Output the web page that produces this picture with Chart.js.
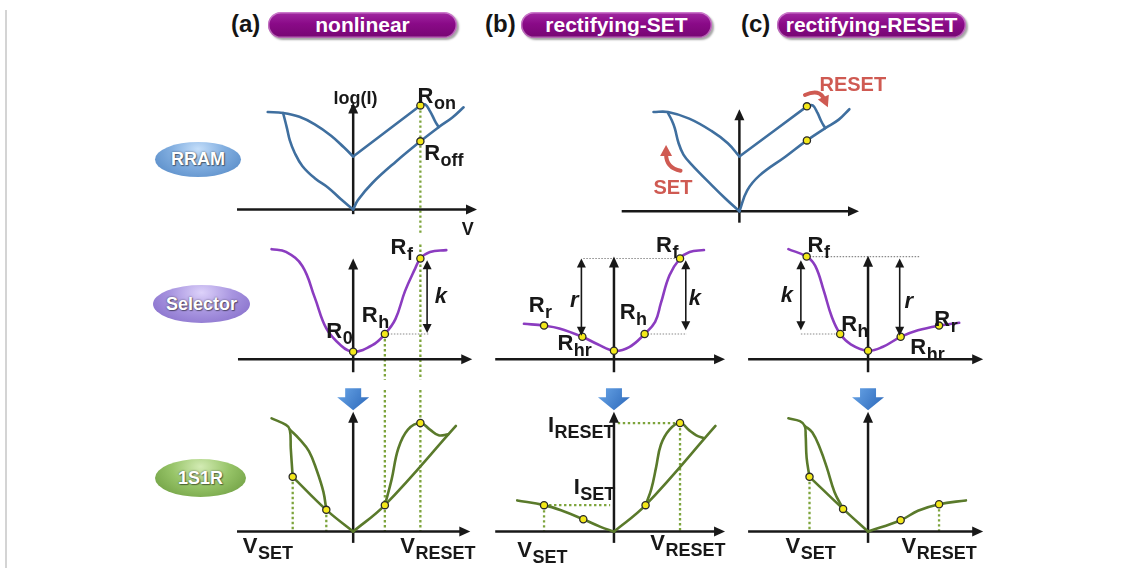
<!DOCTYPE html>
<html><head><meta charset="utf-8">
<script src="https://cdn.jsdelivr.net/npm/chart.js@4.4.1/dist/chart.umd.min.js"></script>
<style>
html,body{margin:0;padding:0;background:#fff;width:1131px;height:568px;overflow:hidden;font-family:"Liberation Sans",Arial,sans-serif;}
#stage{position:relative;width:1131px;height:568px;}
#stage canvas{position:absolute;}
.leftline{position:absolute;left:5px;top:10px;width:2px;height:558px;background:#d4d4d4;}
.tag{position:absolute;top:9px;font-weight:bold;font-size:24px;color:#151515;line-height:30px;}
.pill{position:absolute;top:12px;height:26px;border-radius:13px;background:linear-gradient(180deg,#a22aa2 0%,#8a0a88 45%,#760672 100%);color:#fff;font-weight:bold;font-size:21px;display:flex;align-items:center;justify-content:center;box-shadow:inset 0 0 0 1.5px rgba(255,220,255,0.45),2px 2px 2px rgba(0,0,0,0.35);}
.oval{position:absolute;border-radius:50%;color:#fff;font-weight:bold;font-size:18px;display:flex;align-items:center;justify-content:center;text-shadow:0 0 2px rgba(0,0,0,0.55),1px 1px 1px rgba(0,0,0,0.4);}
</style></head>
<body><div id="stage">
<div class="leftline"></div>
<div class="tag" style="left:231px">(a)</div><div class="pill" style="left:268px;width:189px">nonlinear</div>
<div class="tag" style="left:485px">(b)</div><div class="pill" style="left:521px;width:191px">rectifying-SET</div>
<div class="tag" style="left:741px">(c)</div><div class="pill" style="left:777px;width:189px">rectifying-RESET</div>
<div class="oval" style="left:155px;top:142px;width:86px;height:35px;background:radial-gradient(ellipse at 50% 20%,#c4defa 0%,#80addf 45%,#4f84c2 100%);">RRAM</div>
<div class="oval" style="left:153px;top:285px;width:97px;height:38px;background:radial-gradient(ellipse at 50% 20%,#ddd2fa 0%,#a895e0 45%,#7f66c6 100%);">Selector</div>
<div class="oval" style="left:155px;top:459px;width:91px;height:38px;background:radial-gradient(ellipse at 50% 20%,#d3ebb4 0%,#97c468 45%,#66963a 100%);">1S1R</div>
</div>
<script>
// ================= DATA (V, I in arbitrary units; origin = axes crossing) =================
// (a) RRAM
const rramA_leftUpper = [[-8.9,10.3],[-7.3,10.2],[-5.6,9.8],[-4.0,9.0],[-2.3,7.8],[-1.0,6.6],[0,5.6]];
const rramA_leftLower = [[-7.3,10.2],[-6.9,8.6],[-6.6,7.3],[-6.1,6.0],[-5.3,4.6],[-4.0,3.3],[-2.6,2.3],[-1.3,1.1],[0,0]];
const rramA_rightUpper = [[0,5.6],[7.0,11.0]];
const rramA_reset = [[7.0,11.0],[7.5,11.1],[8.0,10.4],[8.5,9.4],[8.9,8.7]];
const rramA_rightLower = [[0,0],[0.5,1.0],[2.0,2.8],[4.5,5.1],[7.0,7.2],[8.9,8.7],[10.3,9.7],[11.5,10.8]];
const rramA_points = [[7.0,11.0],[7.0,7.2]];
// (c) RRAM
const rramC_leftUpper = [[-8.9,10.5],[-7.4,10.5],[-5.2,9.8],[-2.9,8.5],[-1.2,7.2],[0,5.8]];
const rramC_leftLower = [[-7.4,10.4],[-7.0,9.6],[-6.7,8.8],[-6.3,7.2],[-5.8,6.0],[-5.0,5.0],[-2.9,2.8],[-1.4,1.3],[0,0]];
const rramC_rightUpper = [[0,5.8],[7.0,11.1]];
const rramC_reset = [[7.0,11.1],[7.6,11.2],[8.1,10.4],[8.5,9.5],[8.9,8.8]];
const rramC_rightLower = [[0,0],[0.8,2.2],[2.1,3.8],[4.8,5.8],[7.0,7.5],[8.9,8.8],[10.3,9.7],[11.4,10.8]];
const rramC_points = [[7.0,11.1],[7.0,7.5]];
// Selectors
const selA_curve = [[-8.5,11.8],[-7.0,11.5],[-5.3,10.0],[-4.0,6.6],[-2.8,3.3],[-1.3,1.5],[0,0.8],[2.0,1.5],[3.3,2.7],[4.4,4.3],[5.4,7.3],[6.4,9.6],[7.0,10.8],[8.0,11.5],[9.7,11.7]];
const selA_points = [[0,0.8],[3.3,2.7],[7.0,10.8]];
const selB_curve = [[-9.4,3.8],[-7.3,3.6],[-5.7,3.3],[-3.3,2.4],[-1.7,1.6],[0,0.9],[1.6,1.3],[3.2,2.7],[4.3,4.0],[4.9,6.0],[5.8,9.0],[6.9,10.8],[7.9,11.5],[9.4,11.7]];
const selB_points = [[-7.3,3.6],[-3.3,2.4],[0,0.9],[3.2,2.7],[6.9,10.8]];
const selC_curve = [[-8.3,11.8],[-6.4,11.0],[-5.5,10.0],[-4.6,7.3],[-3.8,4.6],[-2.9,2.7],[-1.8,1.6],[0,0.9],[1.5,1.3],[3.4,2.4],[5.2,3.1],[7.4,3.6],[9.5,3.9]];
const selC_points = [[-6.4,11.0],[-2.9,2.7],[0,0.9],[3.4,2.4],[7.4,3.6]];
// 1S1R
const oneA_leftOuter = [[-8.5,12.0],[-7.0,11.3],[-6.6,10.8],[-6.5,8.8],[-6.3,5.8]];
const oneA_leftLinear = [[-6.3,5.8],[-2.8,2.3],[0,0]];
const oneA_leftInner = [[-6.6,10.8],[-5.6,9.8],[-4.6,8.5],[-3.8,6.5],[-3.1,4.2],[-2.8,2.3]];
const oneA_rightLine = [[0,0],[3.3,2.8],[10.7,11.2]];
const oneA_rightLoop = [[3.3,2.8],[4.0,5.5],[4.7,8.8],[5.7,10.8],[7.0,11.5],[8.0,10.8],[8.9,10.2],[9.9,10.3]];
const oneA_points = [[-6.3,5.8],[-2.8,2.3],[3.3,2.8],[7.0,11.5]];
const oneB_left = [[-10.1,3.3],[-7.3,2.8],[-5.4,2.2],[-3.2,1.3],[-1.4,0.5],[0,0]];
const oneB_rightLine = [[0,0],[3.3,2.8],[10.6,11.2]];
const oneB_rightLoop = [[3.3,2.8],[3.9,4.5],[4.4,6.8],[4.9,9.2],[5.8,10.8],[6.9,11.5],[7.9,10.7],[8.6,10.2],[9.4,9.9]];
const oneB_points = [[-7.3,2.8],[-3.2,1.3],[3.3,2.8],[6.9,11.5]];
const oneC_leftOuter = [[-8.3,12.0],[-7.1,11.7],[-6.6,11.2],[-6.5,10.2],[-6.4,7.8],[-6.1,5.8]];
const oneC_leftLinear = [[-6.1,5.8],[-2.6,2.4],[0,0]];
const oneC_leftInner = [[-6.6,11.2],[-5.8,10.5],[-5.0,8.8],[-4.3,6.8],[-3.5,4.2],[-2.6,2.4]];
const oneC_right = [[0,0],[3.4,1.2],[5.2,2.2],[7.4,2.9],[10.2,3.3]];
const oneC_points = [[-6.1,5.8],[-2.6,2.4],[3.4,1.2],[7.4,2.9]];

// ================= STYLE / LAYOUT =================
const BLUE='#3f6f9f', PURPLE='#8b3cc0', GREEN='#5a7a2b', RED='#cf5a52', INK='#181818';
const FONT='"Liberation Sans", Arial, sans-serif';
const PX=10; // pixels per unit
const stage=document.getElementById('stage');

function curve(pts,color){return {data:pts.map(p=>({x:p[0],y:p[1]})),showLine:true,borderColor:color,borderWidth:2.6,pointRadius:0,tension:0.4,fill:false,order:1,borderCapStyle:'round',borderJoinStyle:'round'};}
function dots(pts){return {data:pts.map(p=>({x:p[0],y:p[1]})),showLine:false,pointRadius:3.6,pointBackgroundColor:'#f3e81a',pointBorderColor:'#2a2a2a',pointBorderWidth:1.3,order:0};}

function arrowHead(ctx,x,y,ang,len,wid){
  ctx.beginPath();
  ctx.moveTo(x,y);
  ctx.lineTo(x-len*Math.cos(ang)+wid/2*Math.sin(ang), y-len*Math.sin(ang)-wid/2*Math.cos(ang));
  ctx.lineTo(x-len*Math.cos(ang)-wid/2*Math.sin(ang), y-len*Math.sin(ang)+wid/2*Math.cos(ang));
  ctx.closePath(); ctx.fill();
}
function drawLabel(ctx,L,X,Y){
  const size=L.size||22;
  ctx.fillStyle=L.color||INK;
  ctx.textBaseline='alphabetic';
  ctx.font=(L.italic?'italic ':'')+'bold '+size+'px '+FONT;
  const px=X(L.x), py=Y(L.y);
  if(L.center){ctx.textAlign='center';ctx.fillText(L.t,px,py);return;}
  ctx.textAlign='left';
  ctx.fillText(L.t,px,py);
  if(L.s){
    const w=ctx.measureText(L.t).width;
    ctx.font='bold '+(L.ssize||18)+'px '+FONT;
    ctx.fillText(L.s,px+w+0.5,py+6);
  }
}
function makeDeco(d){
  return {id:'deco',
    beforeDatasetsDraw(chart){
      const ctx=chart.ctx, X=v=>chart.scales.x.getPixelForValue(v), Y=v=>chart.scales.y.getPixelForValue(v);
      ctx.save();
      ctx.lineCap='butt';
      (d.green||[]).forEach(g=>{ctx.strokeStyle='#7da43c';ctx.lineWidth=2.3;ctx.setLineDash([2.4,2.6]);ctx.beginPath();ctx.moveTo(X(g[0]),Y(g[1]));ctx.lineTo(X(g[2]),Y(g[3]));ctx.stroke();});
      (d.gray||[]).forEach(g=>{ctx.strokeStyle='#8a8a8a';ctx.lineWidth=1.1;ctx.setLineDash([1.5,1.5]);ctx.beginPath();ctx.moveTo(X(g[0]),Y(g[1]));ctx.lineTo(X(g[2]),Y(g[3]));ctx.stroke();});
      ctx.setLineDash([]);
      const a=d.axes; ctx.strokeStyle=INK; ctx.fillStyle=INK; ctx.lineWidth=2.5;
      ctx.beginPath();ctx.moveTo(X(a.x0),Y(0));ctx.lineTo(X(a.x1)-8,Y(0));ctx.stroke();
      arrowHead(ctx,X(a.x1),Y(0),0,11,10);
      ctx.beginPath();ctx.moveTo(X(0),Y(a.y0));ctx.lineTo(X(0),Y(a.y1)+8);ctx.stroke();
      arrowHead(ctx,X(0),Y(a.y1),-Math.PI/2,11,10);
      ctx.restore();
    },
    afterDatasetsDraw(chart){
      const ctx=chart.ctx, X=v=>chart.scales.x.getPixelForValue(v), Y=v=>chart.scales.y.getPixelForValue(v);
      ctx.save();
      (d.dbl||[]).forEach(g=>{
        const x=X(g[0]),y1=Y(g[1]),y2=Y(g[3]);
        ctx.strokeStyle=INK;ctx.fillStyle=INK;ctx.lineWidth=1.6;
        ctx.beginPath();ctx.moveTo(x,y1+6);ctx.lineTo(x,y2-6);ctx.stroke();
        arrowHead(ctx,x,y1,-Math.PI/2,9,9);arrowHead(ctx,x,y2,Math.PI/2,9,9);
      });
      if(d.blue){
        const x=X(d.blue[0]), y=Y(d.blue[1]);
        const gr=ctx.createLinearGradient(x-16,y,x+16,y+22);
        gr.addColorStop(0,'#6aa6e8');gr.addColorStop(1,'#2a66b8');
        ctx.fillStyle=gr;ctx.beginPath();
        ctx.moveTo(x-8,y);ctx.lineTo(x+8,y);ctx.lineTo(x+8,y+9);ctx.lineTo(x+16,y+9);ctx.lineTo(x,y+22);ctx.lineTo(x-16,y+9);ctx.lineTo(x-8,y+9);ctx.closePath();ctx.fill();
      }
      (d.red||[]).forEach(r=>{
        const sx=X(r[0]),sy=Y(r[1]),cx=X(r[2]),cy=Y(r[3]),ex=X(r[4]),ey=Y(r[5]);
        const ang=Math.atan2(ey-cy,ex-cx);
        ctx.strokeStyle=RED;ctx.fillStyle=RED;ctx.lineWidth=4;ctx.lineCap='round';
        ctx.beginPath();ctx.moveTo(sx,sy);ctx.quadraticCurveTo(cx,cy,ex-5*Math.cos(ang),ey-5*Math.sin(ang));ctx.stroke();
        arrowHead(ctx,ex+4*Math.cos(ang),ey+4*Math.sin(ang),ang,11,12);
      });
      (d.labels||[]).forEach(L=>drawLabel(ctx,L,X,Y));
      ctx.restore();
    }};
}
function panel(p,datasets,deco){
  const c=document.createElement('canvas');
  c.width=p.w;c.height=p.h;c.style.left=p.left+'px';c.style.top=p.top+'px';
  stage.appendChild(c);
  new Chart(c,{type:'scatter',data:{datasets},
    options:{responsive:false,animation:false,devicePixelRatio:1,events:[],layout:{padding:0},
      plugins:{legend:{display:false},tooltip:{enabled:false}},
      scales:{x:{type:'linear',display:false,min:(p.left-p.ox)/PX,max:(p.left+p.w-p.ox)/PX},
              y:{type:'linear',display:false,min:(p.oy-p.top-p.h)/PX,max:(p.oy-p.top)/PX}}},
    plugins:[makeDeco(deco)]});
}
const R1={top:50,h:195}, R2={top:228,h:157}, R3={top:380,h:188};

// (a) RRAM
panel({left:225,w:265,...R1,ox:353,oy:213},
 [dots(rramA_points),curve(rramA_leftUpper,BLUE),curve(rramA_leftLower,BLUE),curve(rramA_rightUpper,BLUE),curve(rramA_reset,BLUE),curve(rramA_rightLower,BLUE)],
 {axes:{x0:-12.1,x1:12.9,y0:-0.5,y1:11.3},
  green:[[rramA_points[0][0],rramA_points[0][1],rramA_points[0][0],-2.7]],
  labels:[{t:'log(I)',x:0.25,y:11.2,size:18,center:true},{t:'V',x:11.3,y:-2.7,size:18},
          {t:'R',s:'on',x:6.7,y:11.3},{t:'R',s:'off',x:7.4,y:5.2}]});
// (c) RRAM
panel({left:600,w:300,...R1,ox:739,oy:215},
 [dots(rramC_points),curve(rramC_leftUpper,BLUE),curve(rramC_leftLower,BLUE),curve(rramC_rightUpper,BLUE),curve(rramC_reset,BLUE),curve(rramC_rightLower,BLUE)],
 {axes:{x0:-12.2,x1:12.4,y0:-1.2,y1:10.8},
  red:[[6.8,12.3,8.3,13.0,9.0,11.4],[-6.1,4.3,-7.6,4.6,-7.6,6.6]],
  labels:[{t:'RESET',x:8.3,y:12.7,size:20,color:RED},{t:'SET',x:-8.9,y:1.8,size:20,color:RED}]});
// (a) Selector
panel({left:225,w:265,...R2,ox:353,oy:363},
 [dots(selA_points),curve(selA_curve,PURPLE)],
 {axes:{x0:-12.0,x1:12.4,y0:-1.4,y1:10.8},
  green:[[7.0,12.3,7.0,-2.2],[3.3,2.7,3.3,-2.2]],
  gray:[[3.3,2.7,7.9,2.7]], dbl:[[7.7,10.6,7.7,2.8]],
  labels:[{t:'R',s:'0',x:-2.8,y:2.3},{t:'R',s:'h',x:0.9,y:4.0},{t:'R',s:'f',x:3.9,y:11.3},{t:'k',x:8.5,y:6.0,italic:true}]});
// (b) Selector
panel({left:488,w:250,...R2,ox:614,oy:363},
 [dots(selB_points),curve(selB_curve,PURPLE)],
 {axes:{x0:-12.4,x1:11.6,y0:-1.4,y1:11.0},
  gray:[[-3.2,10.8,6.9,10.8],[3.2,2.7,7.6,2.7]], dbl:[[-3.4,10.8,-3.4,2.5],[7.5,10.6,7.5,3.1]],
  labels:[{t:'R',s:'r',x:-8.9,y:5.1},{t:'r',x:-4.6,y:5.6,italic:true},{t:'R',s:'h',x:0.6,y:4.3},{t:'k',x:7.8,y:5.8,italic:true},
          {t:'R',s:'hr',x:-5.9,y:1.0},{t:'R',s:'f',x:4.4,y:11.5}]});
// (c) Selector
panel({left:738,w:262,...R2,ox:868,oy:363},
 [dots(selC_points),curve(selC_curve,PURPLE)],
 {axes:{x0:-12.5,x1:12.0,y0:-1.4,y1:11.1},
  gray:[[-6.4,11.0,5.4,11.0],[-7.0,2.7,-2.9,2.7]], dbl:[[3.3,10.8,3.3,2.5],[-7.0,10.6,-7.0,3.1]],
  labels:[{t:'R',s:'f',x:-6.3,y:11.5},{t:'k',x:-9.1,y:6.1,italic:true},{t:'R',s:'h',x:-2.8,y:3.0},{t:'r',x:3.8,y:5.5,italic:true},
          {t:'R',s:'r',x:6.9,y:3.6},{t:'R',s:'hr',x:4.4,y:0.6}]});
// (a) 1S1R
panel({left:225,w:265,...R3,ox:353,oy:535},
 [dots(oneA_points),curve(oneA_leftOuter,GREEN),curve(oneA_leftLinear,GREEN),curve(oneA_leftInner,GREEN),curve(oneA_rightLine,GREEN),curve(oneA_rightLoop,GREEN)],
 {axes:{x0:-12.1,x1:12.2,y0:-1.2,y1:12.7},
  green:[[-6.3,5.8,-6.3,0],[-2.8,2.3,-2.8,0],[3.3,15.0,3.3,0],[7.0,15.0,7.0,0]],
  blue:[0,15.2],
  labels:[{t:'V',s:'SET',x:-11.5,y:-2.3},{t:'V',s:'RESET',x:4.9,y:-2.3}]});
// (b) 1S1R
panel({left:488,w:250,...R3,ox:614,oy:535},
 [dots(oneB_points),curve(oneB_left,GREEN),curve(oneB_rightLine,GREEN),curve(oneB_rightLoop,GREEN)],
 {axes:{x0:-12.4,x1:11.6,y0:-1.2,y1:12.7},
  green:[[0.4,11.5,6.9,11.5],[6.9,11.5,6.9,0],[-7.3,2.8,-0.4,2.8],[-7.3,2.8,-7.3,0]],
  blue:[0,15.2],
  labels:[{t:'I',s:'RESET',x:-6.9,y:10.5},{t:'I',s:'SET',x:-4.2,y:4.0},{t:'V',s:'SET',x:-10.1,y:-2.7},{t:'V',s:'RESET',x:3.8,y:-2.0}]});
// (c) 1S1R
panel({left:738,w:262,...R3,ox:868,oy:535},
 [dots(oneC_points),curve(oneC_leftOuter,GREEN),curve(oneC_leftLinear,GREEN),curve(oneC_leftInner,GREEN),curve(oneC_right,GREEN)],
 {axes:{x0:-12.5,x1:12.0,y0:-1.2,y1:12.7},
  green:[[-6.1,5.8,-6.1,0],[7.4,2.9,7.4,0]],
  blue:[0,15.2],
  labels:[{t:'V',s:'SET',x:-8.6,y:-2.3},{t:'V',s:'RESET',x:3.5,y:-2.3}]});
</script>
</body></html>
